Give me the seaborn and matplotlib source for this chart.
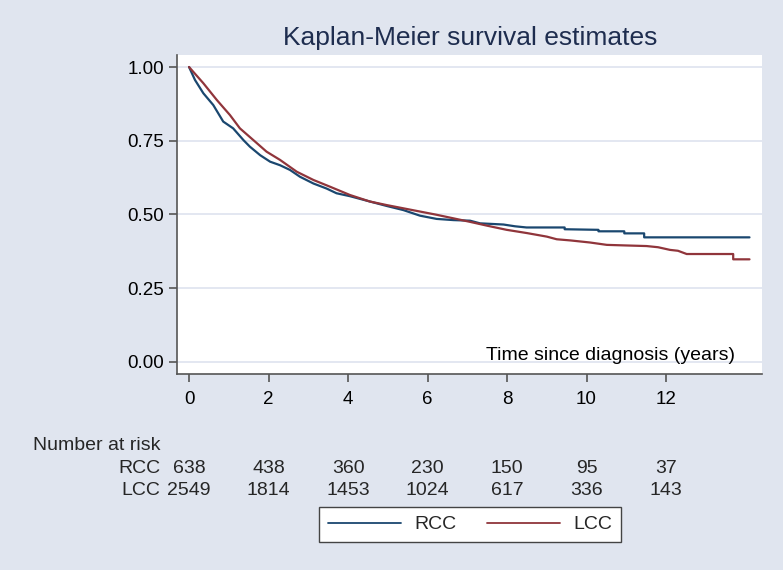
import numpy as np
import pandas as pd
import matplotlib
matplotlib.use("Agg")
import matplotlib.pyplot as plt
import seaborn as sns

# Kaplan-Meier estimates (time in years, survival)
rcc_time = [0, 0.15, 0.36, 0.61, 0.86, 1.11, 1.37, 1.53, 1.79, 2.04, 2.29, 2.54,
            2.79, 3.13, 3.46, 3.71, 4.05, 4.55, 4.97, 5.39, 5.81, 6.23, 6.65,
            7.07, 7.32, 7.91, 8.2, 8.49, 9.45, 9.45, 10.3, 10.3, 10.95, 10.95,
            11.45, 11.45, 14.1]
rcc_surv = [1.0, 0.956, 0.911, 0.871, 0.815, 0.792, 0.752, 0.730, 0.701, 0.679,
            0.667, 0.651, 0.628, 0.605, 0.588, 0.572, 0.562, 0.544, 0.529, 0.515,
            0.496, 0.485, 0.481, 0.479, 0.470, 0.466, 0.460, 0.456, 0.456, 0.450,
            0.448, 0.443, 0.443, 0.436, 0.436, 0.4225, 0.4225]

lcc_time = [0, 0.36, 0.70, 1.03, 1.28, 1.62, 1.95, 2.29, 2.71, 3.13, 3.55, 4.05,
            4.55, 4.97, 5.39, 5.81, 6.23, 6.65, 7.07, 7.5, 7.99, 8.5, 9.0, 9.25,
            9.6, 10.09, 10.51, 11.0, 11.51, 11.8, 12.1, 12.3, 12.52, 13.69, 13.69,
            14.1]
lcc_surv = [1.0, 0.945, 0.888, 0.837, 0.792, 0.752, 0.713, 0.685, 0.645, 0.617,
            0.594, 0.566, 0.544, 0.532, 0.521, 0.510, 0.499, 0.487, 0.475, 0.462,
            0.448, 0.437, 0.425, 0.416, 0.412, 0.405, 0.397, 0.395, 0.393, 0.389,
            0.380, 0.377, 0.366, 0.366, 0.348, 0.348]

risk_times = [0, 2, 4, 6, 8, 10, 12]
rcc_risk = [638, 438, 360, 230, 150, 95, 37]
lcc_risk = [2549, 1814, 1453, 1024, 617, 336, 143]

y_ticks = [0, 0.25, 0.5, 0.75, 1.0]
x_ticks = [0, 2, 4, 6, 8, 10, 12]

df = pd.concat([
    pd.DataFrame({"time": rcc_time, "surv": rcc_surv, "group": "RCC"}),
    pd.DataFrame({"time": lcc_time, "surv": lcc_surv, "group": "LCC"}),
], ignore_index=True)

sns.set_theme(style="white")
plt.rcParams["font.family"] = ["Liberation Sans", "DejaVu Sans"]

bg = "#e0e5ef"
navy, maroon = "#1a476f", "#90353b"
W, H = 783, 570

fig = plt.figure(figsize=(7.83, 5.70), dpi=100, facecolor=bg)
ax = fig.add_axes([0.2261, 0.3439, 0.7471, 0.5596])
ax.set_facecolor("white")

for y in y_ticks:
    ax.axhline(y, color="#e3e7f1", lw=1.4, zorder=0)

sns.lineplot(data=df, x="time", y="surv", hue="group", sort=False, estimator=None,
             palette={"RCC": navy, "LCC": maroon}, lw=1.6, ax=ax, legend=False)

ax.set_xlim(-0.302, 14.415)
ax.set_ylim(-0.0407, 1.0407)
ax.set_xticks(x_ticks)
ax.set_yticks(y_ticks)
ax.set_yticklabels([f"{v:.2f}" for v in y_ticks])
ax.set_xlabel("")
ax.set_ylabel("")
ax.tick_params(axis="both", labelsize=13.5, colors="#555555", labelcolor="black",
               length=6, width=1.2, direction="out", left=True, bottom=True)
ax.tick_params(axis="x", pad=6)
ax.tick_params(axis="y", pad=3.5)
for side in ["top", "right"]:
    ax.spines[side].set_visible(False)
for side in ["left", "bottom"]:
    ax.spines[side].set_color("#555555")
    ax.spines[side].set_linewidth(1.2)

ax.text(0.954, (374 - 360) / 319, "Time since diagnosis (years)",
        transform=ax.transAxes, ha="right", va="baseline", fontsize=14,
        color="black")

fig.text(470 / W, 1 - 45 / H, "Kaplan-Meier survival estimates", ha="center",
         va="baseline", fontsize=19, color="#1e2d4f")

# number at risk table
fig.text(33 / W, 1 - 450 / H, "Number at risk", ha="left", va="baseline",
         fontsize=14)
xt = ax.get_xaxis_transform()
for label, counts, base in [("RCC", rcc_risk, 473), ("LCC", lcc_risk, 495)]:
    yf = (374 - base) / 319
    fig.text(160 / W, 1 - base / H, label, ha="right", va="baseline", fontsize=14)
    for t, n in zip(risk_times, counts):
        ax.text(t, yf, str(n), transform=xt, ha="center", va="baseline",
                fontsize=14, clip_on=False)

handles = [plt.Line2D([], [], color=navy, lw=1.3),
           plt.Line2D([], [], color=maroon, lw=1.3)]
leg = fig.legend(handles, ["RCC", "LCC"], loc="center",
                 bbox_to_anchor=(470 / W, 1 - 524.5 / H), ncol=2, fontsize=14,
                 frameon=True, fancybox=False, framealpha=1, handlelength=3.75,
                 handletextpad=0.67, columnspacing=1.6, borderpad=0.45)
leg.get_frame().set_edgecolor("#444444")
leg.get_frame().set_linewidth(1.0)
leg.get_frame().set_facecolor("white")

fig.savefig("out.png", dpi=100, facecolor=bg)
